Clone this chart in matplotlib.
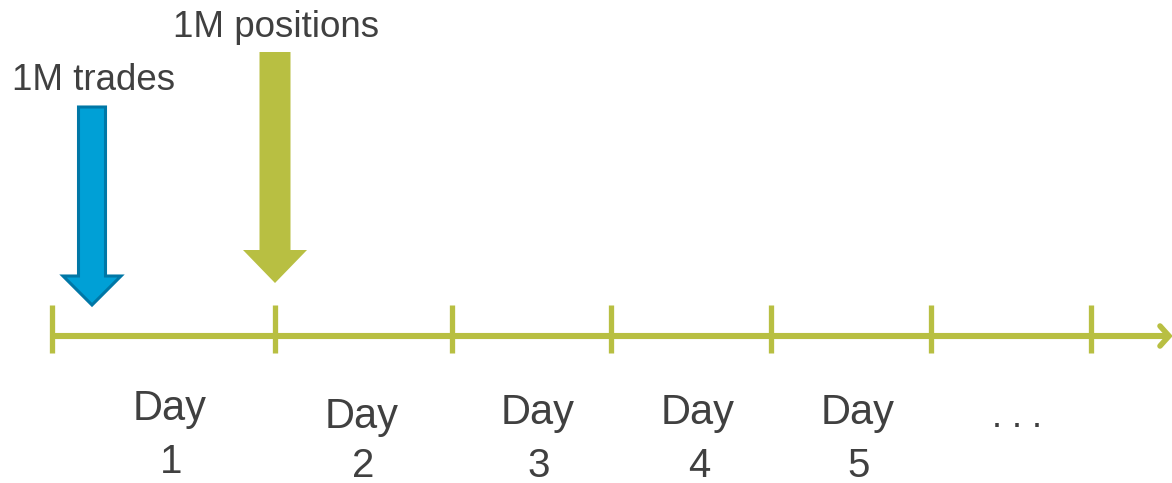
import matplotlib.pyplot as plt
from matplotlib.patches import FancyArrow

plt.rcParams['font.family'] = ['Liberation Sans', 'DejaVu Sans']

# timeline, in pixel units of the canvas
tick_x = [52, 275, 452, 611, 771, 931, 1091]
day_words = ['Day', 'Day', 'Day', 'Day', 'Day']
day_nums = ['1', '2', '3', '4', '5']
day_x = [170, 362, 538, 698, 858]
day_base = [420, 428, 424, 424, 424]
num_base = [473, 477, 477, 477, 477]
more_label = '. . .'

# events dropped onto the timeline
event_labels = ['1M trades', '1M positions']
event_tip = [(92, 305), (275, 283)]
event_top = [107, 52]
event_label_xy = [(12, 90), (173, 37)]

GREEN = '#B8BF42'
BLUE = '#00A0D6'
BLUE_EDGE = '#0077A6'
TEXT = '#404040'

fig = plt.figure(figsize=(11.72, 4.83), dpi=100)
ax = fig.add_axes([0, 0, 1, 1])
ax.set_xlim(0, 1172)
ax.set_ylim(483, 0)
ax.axis('off')

line_y = 336
ax.plot([50, 1168], [line_y, line_y], color=GREEN, lw=4.4, solid_capstyle='butt')
ax.plot([1160, 1169, 1160], [line_y - 10, line_y, line_y + 10], color=GREEN,
        lw=4.0, solid_capstyle='round', solid_joinstyle='miter')
for x in tick_x:
    ax.plot([x, x], [305, 353], color=GREEN, lw=3.8, solid_capstyle='butt')

for x, w, n, b, nb in zip(day_x, day_words, day_nums, day_base, num_base):
    ax.text(x, b, w, ha='center', va='baseline', fontsize=30, color=TEXT)
    ax.text(x + 1, nb, n, ha='center', va='baseline', fontsize=29, color=TEXT)
ax.text(1017, 427, more_label, ha='center', va='baseline', fontsize=26, color=TEXT)

# blue arrow: trades
(tx, ty), top = event_tip[0], event_top[0]
ax.add_patch(FancyArrow(tx, top, 0, ty - top, width=27, head_width=58,
                        head_length=29, length_includes_head=True,
                        facecolor=BLUE, edgecolor=BLUE_EDGE, lw=2.2))
# green arrow: positions
(tx, ty), top = event_tip[1], event_top[1]
ax.add_patch(FancyArrow(tx, top, 0, ty - top, width=31, head_width=64,
                        head_length=33, length_includes_head=True,
                        facecolor=GREEN, edgecolor='none'))

for (x, y), s in zip(event_label_xy, event_labels):
    ax.text(x, y, s, ha='left', va='baseline', fontsize=26.5, color=TEXT)

fig.savefig('out.png', dpi=100)
